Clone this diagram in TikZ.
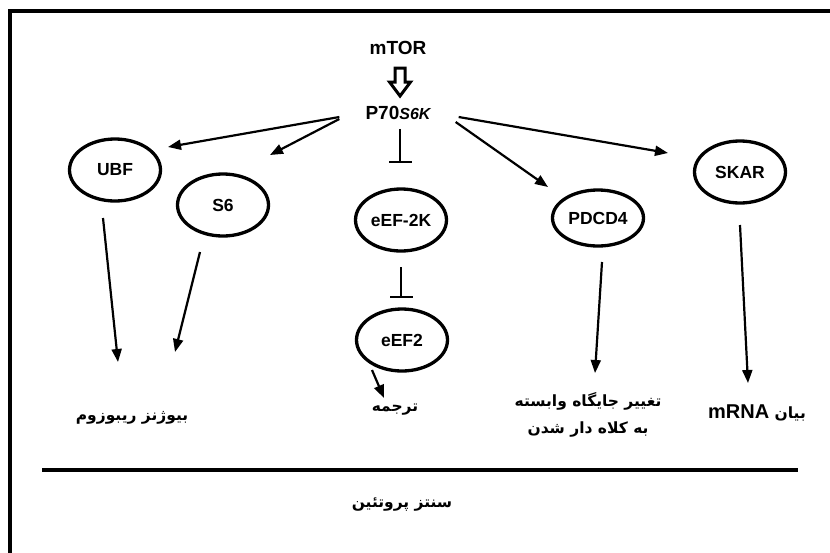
\documentclass[tikz,border=0pt]{standalone}
\usepackage{fontspec}
\setmainfont{Liberation Sans}
\newfontfamily\arabicfont[Script=Arabic]{DejaVu Sans}
\TeXXeTstate=1
\usetikzlibrary{arrows.meta,calc,shapes.geometric}
\begin{document}
\begin{tikzpicture}[x=1pt,y=-1pt,
  lbl/.style={font=\bfseries\fontsize{19}{22}\selectfont, inner sep=0pt},
  oval/.style={draw, ellipse, line width=3.3pt, minimum width=91pt, minimum height=62pt, inner sep=0pt,
    font=\bfseries\fontsize{17.5}{20}\selectfont},
  fa/.style={font=\arabicfont\bfseries\fontsize{15.5}{27}\selectfont, inner sep=0pt, align=center},
  arr/.style={line width=2.2pt, -{Triangle[length=13pt,width=10pt]}},
  inh/.style={line width=2pt, -{Bar[width=23pt]}}
]
\path[use as bounding box] (0,0) rectangle (830,552);
\clip (0,0) rectangle (830,552);
\draw[line width=3.2pt] (10,11) rectangle (850,580);

% nodes
\node[lbl] (mtor) at (398,48) {mTOR};
\node[lbl] (p70) at (398,113) {P70{\itshape\fontsize{16}{18}\selectfont S6K}};
\node[oval] (ubf) at (115,170) {UBF};
\node[oval] (s6) at (223,205) {S6};
\node[oval] (eef2k) at (401,220) {eEF-2K};
\node[oval] (eef2) at (402,340) {eEF2};
\node[oval, minimum height=56pt] (pdcd4) at (598,218) {PDCD4};
\node[oval] (skar) at (740,172) {SKAR};

\node[fa] (ribo) at (132,418) {\beginR بیوژنز ریبوزوم\endR};
\node[fa] (trans) at (395,410) {\beginR ترجمه\endR};
\node[fa] (cap) at (588,415) {\beginR تغییر جایگاه وابسته\endR\\\beginR به کلاه دار شدن\endR};
\node[fa] (mrna) at (757,413) {\beginR بیان {\rmfamily\bfseries\fontsize{20}{22}\selectfont\beginL mRNA\endL}\endR};
\node[fa] (prot) at (402,505) {\beginR سنتز پروتئین\endR};

% hollow arrow mTOR -> P70
\draw[line width=3pt, line join=miter] (395,68) -- (405,68) -- (405,82) -- (410.5,82) -- (400,96) -- (389.5,82) -- (395,82) -- cycle;

% connectors
\draw[arr] ($(p70.west)+(-26,4)$) -- ($(ubf.center)+(53,-23)$);
\draw[arr] ($(p70.west)+(-26,6)$) -- ($(s6.center)+(47,-50)$);
\draw[inh] ($(p70.south)+(2,9)$) -- ($(eef2k.center)+(-1,-57)$);
\draw[arr] ($(p70.east)+(25,9)$) -- ($(pdcd4.center)+(-50,-31)$);
\draw[arr] ($(p70.east)+(28,4)$) -- ($(skar.center)+(-72,-19)$);

\draw[arr] ($(ubf.center)+(-12,48)$) -- ($(ribo.center)+(-14,-56)$);
\draw[arr] ($(s6.center)+(-23,47)$) -- ($(ribo.center)+(43,-66)$);
\draw[inh] ($(eef2k.center)+(0,47)$) -- ($(eef2.center)+(-1,-42)$);
\draw[arr] ($(eef2.center)+(-30,30)$) -- ($(trans.center)+(-11,-12)$);
\draw[arr] ($(pdcd4.center)+(4,44)$) -- ($(cap.center)+(7,-42)$);
\draw[arr] ($(skar.center)+(0,53)$) -- ($(mrna.center)+(-9,-30)$);

% separator
\draw[line width=4pt] (42,470) -- (798,470);
\end{tikzpicture}
\end{document}
